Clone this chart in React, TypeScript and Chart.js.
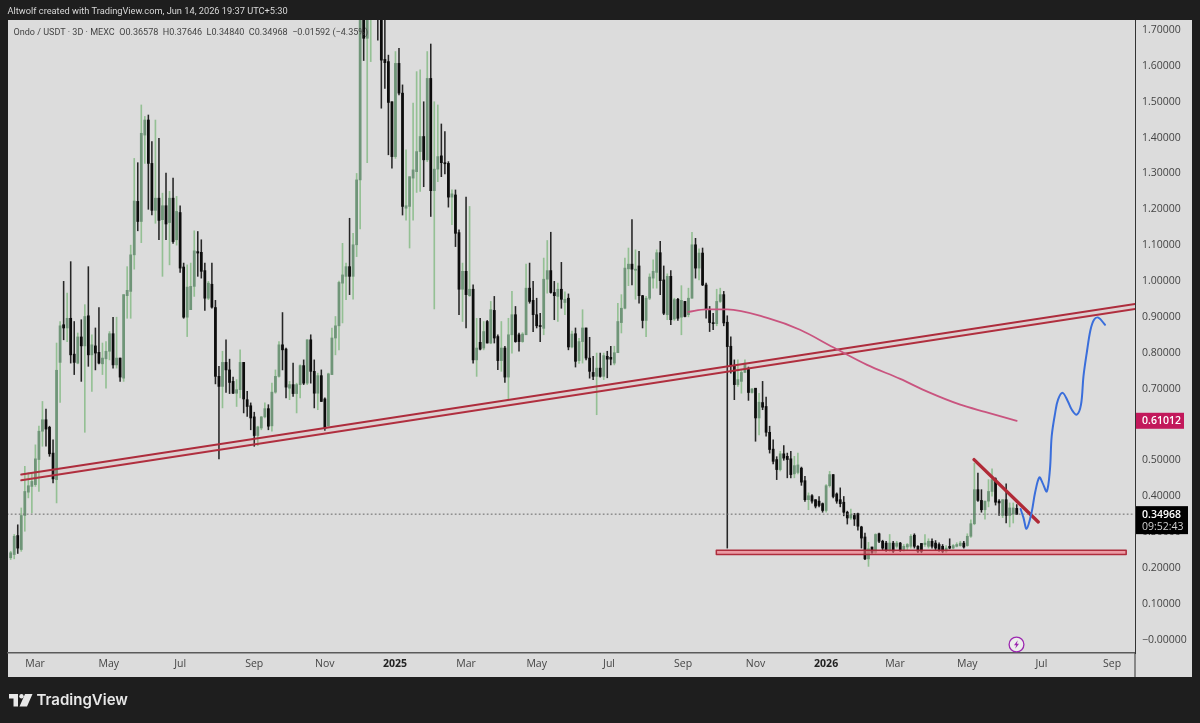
import React, { useEffect, useRef } from "react";
import { Chart, registerables } from "chart.js";

Chart.register(...registerables);

const opens = [
  .228,.237,.290,.251,.346,.411,.427,.432,.502,.581,
  .613,.592,.520,.446,.773,.878,.869,.896,.796,.771,
  .844,.819,.903,.794,.819,.801,.769,.783,.804,.853,
  .766,.785,.729,.959,.971,1.073,1.222,1.166,1.407,1.449,
  1.328,1.197,1.231,1.171,1.210,1.163,1.231,1.115,1.191,1.039,
  .899,.920,.985,1.082,1.080,1.029,.952,.991,.926,.734,
  .706,.773,.752,.720,.687,.697,.773,.669,.652,.621,
  .569,.590,.621,.644,.596,.690,.734,.822,.810,.701,
  .711,.686,.711,.764,.715,.836,.748,.687,.736,.671,
  .596,.739,.841,.875,.994,1.013,1.04,1.013,1.101,1.282,
  1.85,1.677,1.78,1.85,1.95,1.85,1.618,1.612,1.5,1.347,
  1.607,1.524,1.203,1.208,1.287,1.305,1.361,1.403,1.338,1.565,
  1.252,1.312,1.349,1.33,1.328,1.234,1.24,1.135,.977,1.027,
  .959,.977,.78,.829,.813,.887,.827,.918,.845,.778,
  .813,.732,.85,.906,.85,.831,.85,.98,.946,.906,
  .875,.868,1.005,1.029,.968,.957,.977,.94,.952,.816,
  .853,.778,.831,.869,.785,.745,.734,.757,.734,.79,
  .787,.771,.80,.884,.924,1.034,1.047,1.03,1.042,.959,
  .89,.952,1.008,1.024,1.079,1.003,.906,1.013,.894,.949,
  .899,.943,.906,.952,1.101,1.036,1.078,.989,.918,.884,
  .881,.943,.962,.885,.818,.764,.711,.72,.745,.753,
  .689,.701,.618,.661,.65,.578,.531,.502,.474,.518,
  .511,.504,.462,.466,.478,.443,.39,.401,.39,.386,
  .379,.36,.429,.46,.406,.39,.383,.355,.339,.346,
  .351,.314,.286,.225,.258,.243,.295,.274,.269,.249,
  .269,.26,.269,.251,.258,.26,.291,.26,.268,.265,
  .26,.274,.269,.265,.26,.246,.26,.255,.26,.262,
  .269,.262,.288,.323,.418,.388,.362,.386,.413,.448,
  .386,.346,.39,.346,.35,.36578,
];
const highs = [
  .246,.293,.320,.367,.483,.465,.465,.543,.595,.664,
  .643,.595,.557,.827,.887,.999,.966,1.054,.887,.855,
  .892,.934,1.040,.850,.869,.926,.827,.831,.859,.899,
  .899,.785,.962,1.040,1.10,1.342,1.330,1.491,1.459,1.463,
  1.389,1.449,1.398,1.245,1.301,1.250,1.287,1.236,1.210,1.05,
  1.045,1.05,1.14,1.138,1.115,1.05,.999,1.05,.946,.762,
  .804,.836,.782,.732,.725,.808,.773,.692,.660,.634,
  .595,.622,.660,.655,.715,.752,.831,.912,.813,.72,
  .771,.715,.766,.780,.836,.850,.780,.743,.752,.674,
  .743,.869,.901,1.0,1.105,1.05,1.175,1.133,1.30,1.95,
  1.95,1.95,2.0,2.05,2.05,1.95,1.76,1.63,1.5,1.64,
  1.649,1.547,1.366,1.291,1.496,1.584,1.589,1.5,1.64,1.661,
  1.5,1.491,1.438,1.417,1.333,1.254,1.254,1.143,1.05,1.234,
  1.208,.989,.896,.896,.887,.89,.943,.957,.85,.887,
  .818,.896,.971,.929,.855,.856,1.047,1.05,.999,.952,
  .91,1.064,1.113,1.136,.999,.994,1.052,.97,.964,.86,
  .869,.84,.92,.869,.843,.79,.799,.799,.799,.804,
  .818,.818,.938,.962,1.064,1.092,1.171,1.087,1.083,.96,
  .957,1.02,1.059,1.087,1.111,1.042,1.02,1.029,.952,.952,
  .987,.943,.98,1.136,1.119,1.09,1.092,.994,.929,.91,
  .977,.98,.971,.903,.844,.78,.78,.75,.78,.76,
  .70,.70,.687,.72,.676,.595,.557,.51,.525,.541,
  .52,.525,.511,.52,.481,.455,.409,.404,.39,.399,
  .381,.432,.469,.46,.409,.423,.399,.358,.364,.352,
  .353,.316,.297,.271,.258,.295,.297,.277,.274,.293,
  .274,.274,.271,.265,.268,.293,.295,.262,.268,.293,
  .281,.281,.276,.27,.265,.262,.281,.265,.27,.274,
  .274,.295,.334,.492,.4645,.418,.386,.446,.476,.451,
  .39,.39,.434,.381,.381,.37646,
];
const lows = [
  .223,.225,.240,.246,.302,.395,.353,.427,.413,.539,
  .539,.511,.437,.381,.661,.836,.831,.771,.739,.769,
  .720,.578,.762,.692,.752,.769,.739,.701,.780,.757,
  .757,.720,.720,.896,.896,1.033,1.14,1.107,1.328,1.200,
  1.184,1.161,1.115,1.013,1.115,1.045,1.105,1.10,1.024,.896,
  .845,.920,.957,1.013,1.008,.918,.948,.924,.713,.504,
  .646,.689,.686,.686,.650,.674,.632,.622,.585,.539,
  .541,.585,.618,.585,.581,.687,.732,.752,.674,.669,
  .678,.632,.674,.711,.711,.715,.646,.641,.664,.583,
  .595,.739,.794,.808,.883,.948,.962,.949,1.068,1.145,
  1.615,1.33,1.612,1.80,1.672,1.482,1.537,1.352,1.315,1.342,
  1.519,1.184,1.17,1.092,1.17,1.247,1.25,1.263,1.333,1.18,
  .922,1.277,1.291,1.299,1.206,1.157,1.096,.906,.887,.869,
  .957,.771,.734,.808,.808,.827,.825,.827,.753,.748,
  .717,.669,.799,.829,.804,.829,.85,.938,.859,.869,
  .831,.85,.966,.966,.892,.887,.924,.906,.808,.813,
  .76,.77,.771,.78,.729,.725,.627,.732,.725,.73,
  .766,.766,.80,.855,.922,.987,.989,.949,.938,.869,
  .845,.948,.98,.98,.962,.906,.892,.878,.89,.89,
  .85,.90,.90,.952,1.008,1.003,.987,.896,.859,.864,
  .875,.94,.875,.255,.743,.669,.706,.687,.745,.667,
  .687,.553,.571,.641,.567,.52,.49,.446,.47,.50,
  .451,.451,.451,.462,.43,.385,.362,.38,.367,.37,
  .355,.355,.425,.395,.38,.37,.345,.322,.335,.318,
  .305,.255,.223,.204,.24,.24,.27,.25,.245,.245,
  .242,.255,.245,.246,.25,.255,.255,.242,.242,.26,
  .255,.255,.25,.246,.242,.242,.253,.253,.258,.26,
  .255,.26,.285,.32,.385,.355,.336,.37,.40,.375,
  .346,.34,.325,.314,.325,.3484,
];
const closes = [
  .242,.288,.255,.346,.413,.429,.441,.504,.581,.613,
  .587,.518,.448,.751,.875,.869,.896,.794,.773,.844,
  .819,.901,.794,.822,.799,.771,.785,.804,.853,.766,
  .785,.732,.962,.974,1.073,1.223,1.166,1.412,1.449,1.328,
  1.197,1.231,1.169,1.210,1.159,1.231,1.110,1.194,1.036,.899,
  .983,.985,1.084,1.078,1.027,.952,.994,.927,.734,.706,
  .773,.752,.717,.687,.697,.773,.671,.650,.618,.569,
  .593,.621,.644,.595,.690,.734,.822,.808,.704,.711,
  .686,.711,.764,.715,.836,.748,.687,.736,.664,.590,
  .741,.841,.875,.996,1.017,1.04,1.013,1.101,1.282,1.80,
  1.677,1.85,1.85,1.95,1.78,1.616,1.609,1.498,1.347,1.607,
  1.524,1.208,1.21,1.291,1.31,1.361,1.403,1.338,1.565,1.252,
  1.312,1.347,1.33,1.327,1.234,1.243,1.133,.977,1.027,.962,
  .977,.78,.813,.81,.859,.827,.92,.841,.778,.813,
  .732,.85,.906,.831,.831,.852,.98,.943,.906,.875,
  .873,1.005,1.029,.968,.959,.977,.949,.949,.816,.852,
  .776,.831,.869,.785,.748,.734,.757,.734,.792,.782,
  .782,.80,.887,.924,1.036,1.047,1.033,1.033,.959,.89,
  .952,1.011,1.027,1.079,1.001,.91,1.013,.892,.948,.896,
  .946,.901,.952,1.101,1.036,1.078,.989,.92,.884,.881,
  .943,.962,.883,.817,.764,.711,.725,.745,.771,.689,
  .699,.618,.662,.648,.578,.53,.497,.474,.518,.506,
  .502,.46,.485,.487,.439,.39,.401,.386,.372,.374,
  .36,.429,.46,.399,.386,.379,.355,.339,.348,.336,
  .316,.283,.225,.253,.243,.293,.274,.255,.249,.269,
  .246,.269,.249,.26,.265,.288,.26,.246,.246,.269,
  .274,.26,.255,.251,.246,.255,.255,.262,.265,.269,
  .258,.288,.323,.418,.388,.362,.386,.413,.446,.383,
  .381,.39,.346,.367,.367,.34968,
];

const monthTickIndex = [6.9, 27.8, 48, 69, 89, 108.9, 129, 149, 169.5, 190.5, 211, 231, 250.5, 271, 292, 312];
const monthLabels = ["Mar", "May", "Jul", "Sep", "Nov", "2025", "Mar", "May", "Jul", "Sep", "Nov", "2026", "Mar", "May", "Jul", "Sep"];
const priceTicks = [0, .1, .2, .3, .4, .5, .6, .7, .8, .9, 1, 1.1, 1.2, 1.3, 1.4, 1.5, 1.6, 1.7];

const maIndex = [192, 197, 203, 214.3, 223.6, 233, 242.6, 252, 260, 269, 276, 285];
const maValues = [.914, .921, .921, .897, .864, .815, .766, .727, .69, .655, .635, .61012];

const blueIndex = [286.1, 286.9, 287.8, 289.2, 290.2, 291.4, 292.3, 293.5, 294.4, 294.9, 295.9, 296.7, 298, 299.5, 300.6, 302, 303.2, 303.9, 304.9, 305.9, 306.9, 308.1, 310];
const blueValues = [.364, .34, .309, .354, .41, .452, .437, .413, .474, .567, .633, .669, .688, .664, .641, .627, .655, .734, .804, .864, .892, .898, .878];

const channelIndex = [3, 318.5];
const channelUpper = [.460, .936];
const channelLower = [.444, .9217];
const trendIndex = [272.9, 291.1];
const trendValues = [.5017, .328];
const supportIndex = [199.9, 316];
const supportTop = .249;
const supportBottom = .237;
const lastPrice = .34968;
const lastMa = .61012;
const countdown = "09:52:43";

const FONT = "'Open Sans', 'DejaVu Sans', sans-serif";
const UP_BODY = "#6f9578";
const UP_WICK = "#94c094";
const DOWN_WICK = "#262626";
const DOWN = "#0d0d0d";
const RED = "#ad2c3c";

const zip = (xs: number[], ys: number[]) => xs.map((x, i) => ({ x, y: ys[i] }));
const idx = opens.map((_, i) => i);
const upIdx = idx.filter((i) => closes[i] >= opens[i]);
const downIdx = idx.filter((i) => closes[i] < opens[i]);

const panelPlugin = {
  id: "panel",
  beforeDraw(chart: any) {
    const { ctx, chartArea: a } = chart;
    ctx.save();
    ctx.fillStyle = "#1e1e1e";
    ctx.fillRect(0, 0, chart.width, chart.height);
    ctx.fillStyle = "#dcdcdc";
    ctx.fillRect(a.left, a.top, chart.width - 8 - a.left, chart.height - 46 - a.top);
    ctx.strokeStyle = "#333";
    ctx.lineWidth = 1;
    ctx.beginPath();
    ctx.moveTo(a.right, a.bottom);
    ctx.lineTo(a.right, chart.height - 46);
    ctx.stroke();
    ctx.restore();
  },
  afterDraw(chart: any) {
    const { ctx, chartArea: a, scales } = chart;
    const yMa = scales.y.getPixelForValue(lastMa);
    const yLast = scales.y.getPixelForValue(lastPrice);
    ctx.save();
    ctx.textBaseline = "middle";
    ctx.textAlign = "left";
    ctx.fillStyle = "#c2185b";
    ctx.fillRect(a.right + 1, yMa - 8, 48, 16);
    ctx.fillStyle = "#fff";
    ctx.font = `600 10.5px ${FONT}`;
    ctx.fillText(lastMa.toFixed(5), a.right + 7, yMa + 0.5);
    ctx.fillStyle = "#000";
    ctx.fillRect(a.right + 1, yLast - 8, 52, 28);
    ctx.fillStyle = "#fff";
    ctx.fillText(lastPrice.toFixed(5), a.right + 7, yLast + 0.5);
    ctx.fillStyle = "#cfcfcf";
    ctx.font = `10.5px ${FONT}`;
    ctx.fillText(countdown, a.right + 7, yLast + 13);
    ctx.restore();
  },
};

const lineBase = { type: "line", pointRadius: 0, borderJoinStyle: "round", borderCapStyle: "round" };

export default function App() {
  const ref = useRef<HTMLCanvasElement>(null);
  useEffect(() => {
    document.body.style.margin = "0";
    document.body.style.background = "#1e1e1e";
    const chart = new Chart(ref.current as HTMLCanvasElement, {
      type: "bar",
      plugins: [panelPlugin],
      data: {
        datasets: [
          {
            label: "Up wicks",
            order: 23,
            data: upIdx.map((i) => ({ x: i, y: [lows[i], highs[i]] })),
            backgroundColor: UP_WICK,
            barThickness: 1,
            grouped: false,
          },
          {
            label: "Up bodies",
            order: 22,
            data: upIdx.map((i) => ({ x: i, y: [opens[i], closes[i]] })),
            backgroundColor: UP_BODY,
            barThickness: 2.1,
            minBarLength: 1,
            grouped: false,
          },
          {
            label: "Down wicks",
            order: 21,
            data: downIdx.map((i) => ({ x: i, y: [lows[i], highs[i]] })),
            backgroundColor: DOWN_WICK,
            barThickness: 0.9,
            grouped: false,
          },
          {
            label: "Down bodies",
            order: 20,
            data: downIdx.map((i) => ({ x: i, y: [opens[i], closes[i]] })),
            backgroundColor: DOWN,
            barThickness: 2.1,
            minBarLength: 1,
            grouped: false,
          },
          {
            ...lineBase,
            label: "Last price",
            order: 18,
            data: zip([-1, 318.5], [lastPrice, lastPrice]),
            borderColor: "#666",
            borderWidth: 1,
            borderDash: [1, 3],
          },
          {
            ...lineBase,
            label: "Channel upper",
            order: 10,
            data: zip(channelIndex, channelUpper),
            borderColor: RED,
            borderWidth: 2,
            fill: "+1",
            backgroundColor: "rgba(242,120,130,0.10)",
          },
          {
            ...lineBase,
            label: "Channel lower",
            order: 10,
            data: zip(channelIndex, channelLower),
            borderColor: RED,
            borderWidth: 2,
          },
          {
            ...lineBase,
            label: "Support fill",
            order: 11,
            data: zip(supportIndex, [supportTop, supportTop]),
            borderWidth: 0,
            fill: { value: supportBottom },
            backgroundColor: "rgba(245,110,125,0.6)",
          },
          {
            ...lineBase,
            label: "Support box",
            order: 10,
            tension: 0,
            data: zip(
              [supportIndex[0], supportIndex[1], supportIndex[1], supportIndex[0], supportIndex[0]],
              [supportTop, supportTop, supportBottom, supportBottom, supportTop]
            ),
            borderColor: RED,
            borderWidth: 1.5,
          },
          {
            ...lineBase,
            label: "Moving average",
            order: 9,
            data: zip(maIndex, maValues),
            borderColor: "#c9547f",
            borderWidth: 1.8,
            cubicInterpolationMode: "monotone",
          },
          {
            ...lineBase,
            label: "Trendline",
            order: 8,
            data: zip(trendIndex, trendValues),
            borderColor: "#b02a37",
            borderWidth: 3.4,
          },
          {
            ...lineBase,
            label: "Projection",
            order: 7,
            data: zip(blueIndex, blueValues),
            borderColor: "#3a6edb",
            borderWidth: 2,
            tension: 0.35,
          },
        ] as any,
      },
      options: {
        animation: false,
        responsive: false,
        devicePixelRatio: 1,
        layout: { padding: { left: 8, top: 20, right: 8, bottom: 46 } },
        plugins: { legend: { display: false }, tooltip: { enabled: false } },
        scales: {
          x: {
            type: "linear",
            offset: false,
            min: -0.76,
            max: 318.5,
            grid: { display: false, drawTicks: false },
            border: { display: true, color: "#5a5a5a", width: 1.5 },
            afterBuildTicks: (s: any) => {
              s.ticks = monthTickIndex.map((value) => ({ value }));
            },
            afterFit: (s: any) => {
              s.height = 24;
            },
            ticks: {
              autoSkip: false,
              maxRotation: 0,
              padding: 5,
              color: (c: any) => (/^20/.test(monthLabels[c.index] || "") ? "#222" : "#444"),
              font: (c: any) => ({
                family: FONT,
                size: 10.5,
                weight: /^20/.test(monthLabels[c.index] || "") ? "700" : "400",
              }),
              callback: (_: any, i: number) => monthLabels[i],
            },
          },
          y: {
            type: "linear",
            position: "right",
            min: -0.0376,
            max: 1.728,
            grid: { display: false, drawTicks: false },
            border: { display: true, color: "#333", width: 1 },
            afterBuildTicks: (s: any) => {
              s.ticks = priceTicks.map((value) => ({ value }));
            },
            afterFit: (s: any) => {
              s.width = 57;
            },
            ticks: {
              autoSkip: false,
              padding: 7,
              color: "#444",
              font: { family: FONT, size: 10.5 },
              callback: (v: any) => (v === 0 ? "\u22120.00000" : Number(v).toFixed(5)),
            },
          },
        },
      } as any,
    } as any);
    return () => chart.destroy();
  }, []);

  return (
    <div style={{ position: "relative", width: 1200, height: 723, overflow: "hidden", background: "#1e1e1e" }}>
      <canvas ref={ref} width={1200} height={723} style={{ display: "block" }} />
      <div style={{ position: "absolute", left: 7.5, top: 3, fontFamily: "Roboto, sans-serif", fontSize: 9.25, color: "#d8d8d8", whiteSpace: "nowrap", lineHeight: "16px" }}>
        Altwolf created with TradingView.com, Jun 14, 2026 19:37 UTC+5:30
      </div>
      <div style={{ position: "absolute", left: 13.5, top: 24, fontFamily: "Roboto, sans-serif", fontSize: 9.05, color: "#444", whiteSpace: "pre", lineHeight: "16px" }}>
        {"Ondo / USDT · 3D · MEXC  O0.36578  H0.37646  L0.34840  C0.34968  \u22120.01592 (\u22124.35%)"}
      </div>
      <svg style={{ position: "absolute", left: 9, top: 694 }} width={24} height={13} viewBox="0 0 24 13">
        <path d="M0 0H9V12.5H4.5V4.5H0Z M16 0H23.5L18 12.5H10.5Z" fill="#e8e8e8" />
        <circle cx="12.5" cy="2.2" r="2.2" fill="#e8e8e8" />
      </svg>
      <div style={{ position: "absolute", left: 36.5, top: 690, fontFamily: "Inter, sans-serif", fontWeight: 600, fontSize: 15, color: "#e8e8e8", lineHeight: "20px", whiteSpace: "nowrap" }}>
        TradingView
      </div>
      <svg style={{ position: "absolute", left: 1008, top: 636 }} width={17} height={17} viewBox="0 0 17 17">
        <circle cx="8.5" cy="8.5" r="7.4" fill="#ececec" stroke="#9c27b0" strokeWidth="1.3" />
        <path d="M9.8 4.2 6 9.2H8.2L7.2 12.8 11 7.8H8.8Z" fill="#9c27b0" />
      </svg>
    </div>
  );
}
